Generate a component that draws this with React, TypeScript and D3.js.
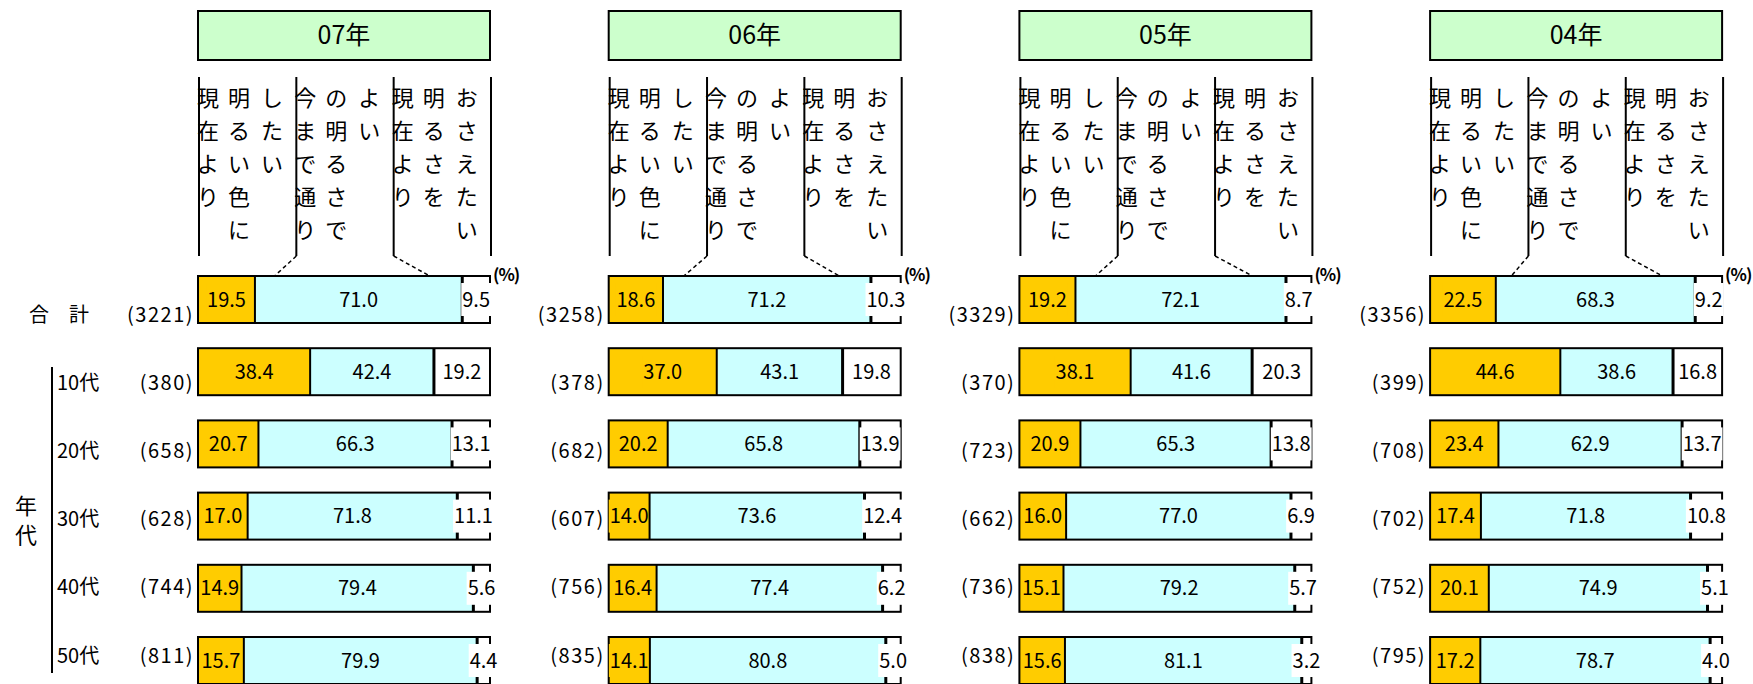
import React from "react";
import * as d3 from "d3";

const years = ["07年", "06年", "05年", "04年"];
const rowLabels = ["合計", "10代", "20代", "30代", "40代", "50代"];

const n07 = [3221, 380, 658, 628, 744, 811];
const n06 = [3258, 378, 682, 607, 756, 835];
const n05 = [3329, 370, 723, 662, 736, 838];
const n04 = [3356, 399, 708, 702, 752, 795];

// 現在より明るい色にしたい
const brighter07 = [19.5, 38.4, 20.7, 17.0, 14.9, 15.7];
const brighter06 = [18.6, 37.0, 20.2, 14.0, 16.4, 14.1];
const brighter05 = [19.2, 38.1, 20.9, 16.0, 15.1, 15.6];
const brighter04 = [22.5, 44.6, 23.4, 17.4, 20.1, 17.2];
// 今まで通りの明るさでよい
const same07 = [71.0, 42.4, 66.3, 71.8, 79.4, 79.9];
const same06 = [71.2, 43.1, 65.8, 73.6, 77.4, 80.8];
const same05 = [72.1, 41.6, 65.3, 77.0, 79.2, 81.1];
const same04 = [68.3, 38.6, 62.9, 71.8, 74.9, 78.7];
// 現在より明るさをおさえたい
const dimmer07 = [9.5, 19.2, 13.1, 11.1, 5.6, 4.4];
const dimmer06 = [10.3, 19.8, 13.9, 12.4, 6.2, 5.0];
const dimmer05 = [8.7, 20.3, 13.8, 6.9, 5.7, 3.2];
const dimmer04 = [9.2, 16.8, 13.7, 10.8, 5.1, 4.0];

const headerCols = [
  ["現在より", "明るい色に", "したい"],
  ["今まで通り", "の明るさで", "よい"],
  ["現在より", "明るさを", "おさえたい"],
];

const panels = [
  { year: years[0], n: n07, vals: [brighter07, same07, dimmer07] },
  { year: years[1], n: n06, vals: [brighter06, same06, dimmer06] },
  { year: years[2], n: n05, vals: [brighter05, same05, dimmer05] },
  { year: years[3], n: n04, vals: [brighter04, same04, dimmer04] },
];

const colors = ["#ffcc00", "#ccffff", "#ffffff"];
const FONT = "'Noto Sans CJK JP', 'Noto Sans', sans-serif";
const VAL_SIZE = 20;

let ctx: CanvasRenderingContext2D | null = null;
function measure(t: string, size: number) {
  if (!ctx) {
    const c = document.createElement("canvas");
    ctx = c.getContext("2d");
  }
  if (!ctx) return t.length * size * 0.55;
  ctx.font = `${size}px 'Noto Sans CJK JP'`;
  return ctx.measureText(t).width;
}

const W = 1753;
const H = 684;
const panelX0 = 198;
const panelStep = 410.7;
const barW = 292;
const barH = 47;
const rowStep = 72.2;
const firstTop = 276;
const labelBase0 = 322;
const labelStep = 68.1;

export default function App() {
  const y = d3
    .scaleBand<string>()
    .domain(rowLabels)
    .range([firstTop, firstTop + 5 * rowStep + barH])
    .paddingInner(1 - barH / rowStep)
    .paddingOuter(0);
  const bh = y.bandwidth();
  const ly = d3
    .scalePoint<string>()
    .domain(rowLabels)
    .range([labelBase0, labelBase0 + 5 * labelStep]);

  return (
    <svg
      width={W}
      height={H}
      style={{ position: "absolute", left: 0, top: 0, background: "#fff" }}
      fontFamily={FONT}
    >
      {/* left labels */}
      <text x={29} y={ly("合計") as number} fontSize={20}>
        合　計
      </text>
      {rowLabels.slice(1).map((r) => (
        <text key={r} x={57} y={ly(r) as number} fontSize={20}>
          {r}
        </text>
      ))}
      <line x1={52} x2={52} y1={367} y2={673} stroke="#000" strokeWidth={2} />
      <text x={26} y={514} fontSize={22} textAnchor="middle">年</text>
      <text x={26} y={543} fontSize={22} textAnchor="middle">代</text>

      {panels.map((p, pi) => {
        const x0 = panelX0 + pi * panelStep;
        const x = d3.scaleLinear().domain([0, 100]).range([x0, x0 + barW]);
        const third = barW / 3;
        const tot = p.vals[0][0] + p.vals[1][0];
        return (
          <g key={p.year}>
            {/* title */}
            <rect x={x0} y={11} width={barW} height={49} fill="#ccffcc" stroke="#000" strokeWidth={2} />
            <text x={x0 + barW / 2} y={44} fontSize={25} textAnchor="middle">
              {p.year}
            </text>
            {/* header */}
            {[0, 1, 2, 3].map((k) => (
              <line key={k} x1={x0 + 1 + k * third} x2={x0 + 1 + k * third} y1={77} y2={256} stroke="#000" strokeWidth={2} />
            ))}
            {headerCols.map((col, ci) =>
              col.map((s, si) =>
                s.split("").map((ch, chi) => (
                  <text
                    key={`${ci}-${si}-${chi}`}
                    x={x0 + ci * third + [10, 41, 74][si]}
                    y={98 + chi * 33 + 8}
                    fontSize={22}
                    textAnchor="middle"
                  >
                    {ch}
                  </text>
                ))
              )
            )}
            <line x1={x0 + 1 + third} y1={256} x2={x(p.vals[0][0])} y2={firstTop + 18} stroke="#000" strokeWidth={1.5} strokeDasharray="4,3" />
            <line x1={x0 + 1 + 2 * third} y1={256} x2={x(tot)} y2={firstTop + 18} stroke="#000" strokeWidth={1.5} strokeDasharray="4,3" />
            <text x={x0 + barW + 3} y={firstTop + 5} fontSize={17} fontWeight="bold" letterSpacing={-1}>
              (%)
            </text>

            {rowLabels.map((r, ri) => {
              const top = y(r) as number;
              const v = [p.vals[0][ri], p.vals[1][ri], p.vals[2][ri]];
              const cum = [0, v[0], v[0] + v[1], 100];
              const cy = top + bh / 2;
              const labels = v.map((val) => val.toFixed(1));
              const tws = labels.map((l) => measure(l, VAL_SIZE));
              const cxs = v.map((val, k) => x(cum[k] + val / 2));
              return (
                <g key={r}>
                  {v.map((val, k) => (
                    <rect key={k} x={x(cum[k])} y={top} width={x(cum[k + 1]) - x(cum[k])} height={bh} fill={colors[k]} />
                  ))}
                  <rect x={x0} y={top} width={barW} height={bh} fill="none" stroke="#000" strokeWidth={2} />
                  <rect x={cxs[0] - tws[0] / 2 - 1} y={cy - 16.5} width={tws[0] + 2} height={33} fill={colors[0]} />
                  <line x1={x(cum[1])} x2={x(cum[1])} y1={top} y2={top + bh} stroke="#000" strokeWidth={2} />
                  <line x1={x(cum[2])} x2={x(cum[2])} y1={top} y2={top + bh} stroke="#000" strokeWidth={3} />
                  <rect x={cxs[2] - tws[2] / 2 - 1} y={cy - 16.5} width={tws[2] + 2} height={33} fill={colors[2]} />
                  {labels.map((l, k) => (
                    <text key={k} x={cxs[k]} y={cy + 7} fontSize={VAL_SIZE} textAnchor="middle">
                      {l}
                    </text>
                  ))}
                  <text
                    x={x0 - 4}
                    y={ly(r) as number}
                    fontSize={20}
                    textAnchor="end"
                    letterSpacing={1.5}
                  >
                    {`(${p.n[ri]})`}
                  </text>
                </g>
              );
            })}
          </g>
        );
      })}
    </svg>
  );
}
